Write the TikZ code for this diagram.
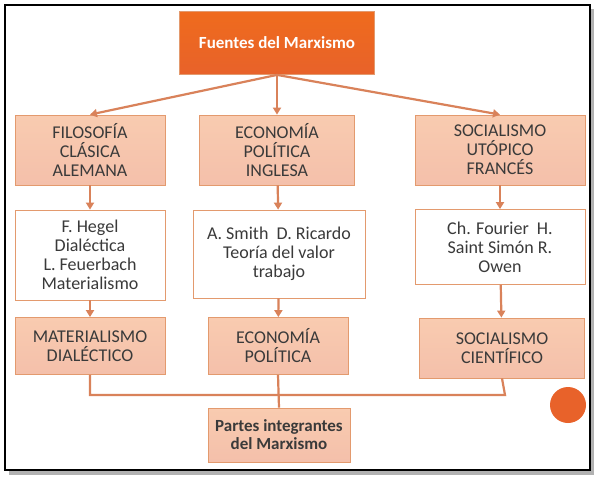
\documentclass[tikz,border=0pt]{standalone}
\usepackage{fontspec}
\setmainfont{Carlito}
\usetikzlibrary{arrows.meta,shadows}
\definecolor{dorange}{HTML}{E8622A}
\definecolor{lorange}{HTML}{F6B58E}
\definecolor{edgeo}{HTML}{E39A6E}
\definecolor{conn}{HTML}{D9825A}
\definecolor{txt}{HTML}{3A3A3A}
\tikzset{
 lbox/.style={draw=edgeo,line width=0.8pt,top color=lorange!70,bottom color=lorange!120!orange,text=txt,align=center,font=\fontsize{18}{19}\selectfont,inner sep=0pt},
 wbox/.style={draw=edgeo,line width=0.8pt,fill=white,text=txt,align=center,font=\fontsize{18}{19}\selectfont,inner sep=0pt},
 conn/.style={draw=conn,line width=2.2pt,-{Triangle[length=7pt,width=8pt]}},
 cline/.style={draw=conn,line width=2.2pt}
}
\begin{document}
\begin{tikzpicture}[x=1pt,y=-1pt]
\useasboundingbox (0,0) rectangle (600,480);
\fill[white] (0,0) rectangle (600,480);
\fill[gray!60] (9,9) rectangle (594,475);
\draw[black,line width=1.5pt,fill=white] (5,5) rectangle (590,470);
\node[draw=edgeo,line width=0.8pt,top color=dorange!70!orange,bottom color=dorange,text=white,font=\bfseries\fontsize{17}{18}\selectfont,minimum width=195pt,minimum height=63pt,inner sep=0pt] (top) at (277,43) {Fuentes del Marxismo};
\node[lbox,minimum width=150pt,minimum height=70pt] (a1) at (90,150) {FILOSOFÍA\\CLÁSICA\\ALEMANA};
\node[lbox,minimum width=155pt,minimum height=70pt] (b1) at (277,150) {ECONOMÍA\\POLÍTICA\\INGLESA};
\node[lbox,minimum width=170pt,minimum height=70pt] (c1) at (500,150) {SOCIALISMO\\UTÓPICO\\FRANCÉS};
\node[wbox,minimum width=150pt,minimum height=90pt] (a2) at (90,255) {F. Hegel\\Dialéctica\\L. Feuerbach\\Materialismo};
\node[wbox,minimum width=172pt,minimum height=88pt] (b2) at (279,254) {A. Smith\ \ D. Ricardo\\Teoría del valor\\trabajo};
\node[wbox,minimum width=170pt,minimum height=75pt] (c2) at (500,247) {Ch. Fourier\ \ H.\\Saint Simón R.\\Owen};
\node[lbox,minimum width=150pt,minimum height=57pt] (a3) at (90,346) {MATERIALISMO\\DIALÉCTICO};
\node[lbox,minimum width=140pt,minimum height=57pt] (b3) at (278,346) {ECONOMÍA\\POLÍTICA};
\node[lbox,minimum width=165pt,minimum height=60pt] (c3) at (502,348) {SOCIALISMO\\CIENTÍFICO};
\node[lbox,font=\bfseries\fontsize{17}{18}\selectfont,minimum width=142pt,minimum height=54pt] (p) at (279,435) {Partes integrantes\\del Marxismo};
\coordinate (ya) at (90,395);
\coordinate (yc) at (505,395);
\draw[conn] (top.south) -- (a1.north);
\draw[conn] (top.south) -- (b1.north);
\draw[conn] (top.south) -- (c1.north);
\draw[conn] (a1) -- (a2);
\draw[conn] (b1) -- (b2);
\draw[conn] (c1) -- (c2);
\draw[conn] (a2) -- (a3);
\draw[conn] (b2) -- (b3);
\draw[conn] (c2) -- (c3);
\draw[cline] (a3.south) -- (ya) -- (yc) -- (c3.south);
\draw[cline] (b3.south) -- (p.north);
\fill[dorange] (568,405) circle (18pt);
\end{tikzpicture}
\end{document}
